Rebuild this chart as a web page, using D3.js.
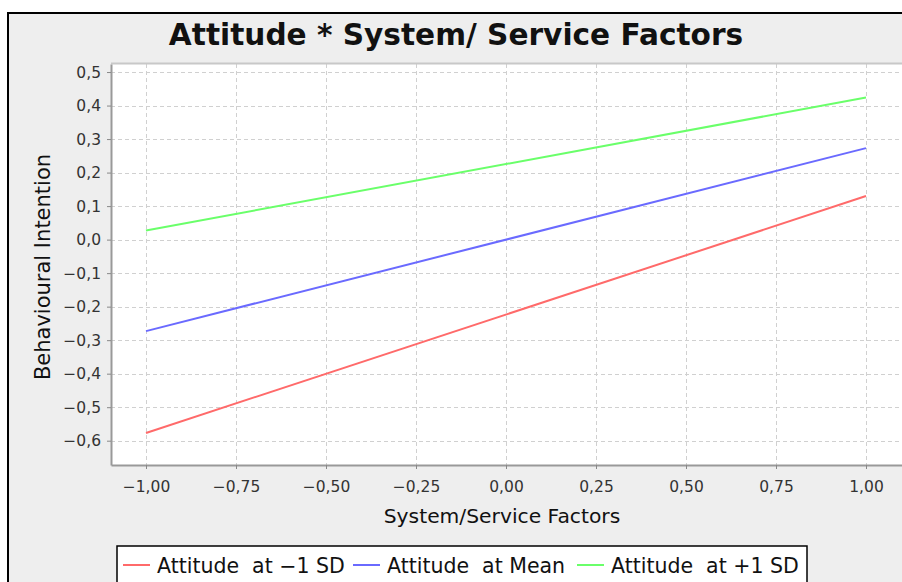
<!DOCTYPE html>
<html><head><meta charset="utf-8">
<script src="https://cdn.jsdelivr.net/npm/d3@7"></script>
<style>body{margin:0;background:#fff}svg{display:block}</style>
</head><body>
<svg id="c" width="902" height="582"></svg>
<script>
const xTicks = [-1.00, -0.75, -0.50, -0.25, 0.00, 0.25, 0.50, 0.75, 1.00];
const yTicks = [0.5, 0.4, 0.3, 0.2, 0.1, 0.0, -0.1, -0.2, -0.3, -0.4, -0.5, -0.6];
const seriesNames = ["Attitude  at \u22121 SD", "Attitude  at Mean", "Attitude  at +1 SD"];
const seriesColors = ["#ff6a6a", "#6a6aff", "#6aff6a"];
const xValues = [-1, 1];
const lowValues = [-0.577, 0.130];
const meanValues = [-0.273, 0.273];
const highValues = [0.027, 0.424];
const allSeries = [lowValues, meanValues, highValues];

const svg = d3.select("#c");
const L = 111, R = 902, T = 64, B = 465;
const x = d3.scaleLinear().domain([-1.0972, 1.1]).range([L, R]);
const y = d3.scaleLinear().domain([-0.6725, 0.524]).range([B, T]);
const font = "'DejaVu Sans', sans-serif";
const fmt2 = d => d3.format(".2f")(d).replace(".", ",").replace("-", "\u2212");
const fmt1 = d => d3.format(".1f")(d).replace(".", ",").replace("-", "\u2212");

// background
svg.append("rect").attr("x", 8).attr("y", 13).attr("width", 894).attr("height", 569).attr("fill", "#eeeeee");
svg.append("path").attr("d", "M8,582 V13 H902").attr("fill", "none").attr("stroke", "#000").attr("stroke-width", 2);

// plot area
svg.append("rect").attr("x", L).attr("y", T).attr("width", R - L).attr("height", B - T).attr("fill", "#fff");

// grid
const grid = svg.append("g").attr("stroke", "#d0d0d0").attr("stroke-dasharray", "4,3").attr("stroke-width", 1);
yTicks.forEach(v => grid.append("line").attr("x1", L).attr("x2", R).attr("y1", Math.round(y(v)) + 0.5).attr("y2", Math.round(y(v)) + 0.5));
xTicks.forEach(v => grid.append("line").attr("y1", T).attr("y2", B).attr("x1", Math.round(x(v)) + 0.5).attr("x2", Math.round(x(v)) + 0.5));

// frame
svg.append("line").attr("x1", L).attr("x2", R).attr("y1", T - 0.5).attr("y2", T - 0.5).attr("stroke", "#c8c8c8").attr("stroke-width", 2);

// axes
const xAxis = svg.append("g").attr("transform", `translate(0,${B})`)
  .call(d3.axisBottom(x).tickValues(xTicks).tickFormat(fmt2).tickSizeOuter(0).tickSizeInner(4).tickPadding(12));
const yAxis = svg.append("g").attr("transform", `translate(${L},0)`)
  .call(d3.axisLeft(y).tickValues(yTicks).tickFormat(fmt1).tickSizeOuter(0).tickSizeInner(4).tickPadding(6));
[xAxis, yAxis].forEach(a => {
  a.select(".domain").attr("stroke", "#999").attr("stroke-width", 2);
  a.selectAll(".tick line").attr("stroke", "#888");
  a.selectAll("text").attr("font-family", font).attr("font-size", 15.5).attr("fill", "#333");
});

// lines
const line = d3.line().x((d, i) => x(xValues[i])).y(d => y(d));
allSeries.forEach((s, i) => {
  svg.append("path").datum(s).attr("d", line).attr("fill", "none")
    .attr("stroke", seriesColors[i]).attr("stroke-width", 2);
});

// title
svg.append("text").attr("x", 456).attr("y", 45).attr("text-anchor", "middle")
  .attr("font-family", font).attr("font-weight", "bold").attr("font-size", 29.6).attr("fill", "#111")
  .text("Attitude * System/ Service Factors");

// axis labels
svg.append("text").attr("x", 502).attr("y", 523).attr("text-anchor", "middle")
  .attr("font-family", font).attr("font-size", 20.3).attr("fill", "#111").text("System/Service Factors");
svg.append("text").attr("transform", "translate(50,267) rotate(-90)").attr("text-anchor", "middle")
  .attr("font-family", font).attr("font-size", 21).attr("fill", "#111").text("Behavioural Intention");

// legend
svg.append("rect").attr("x", 117).attr("y", 546).attr("width", 690).attr("height", 60)
  .attr("fill", "#fff").attr("stroke", "#000").attr("stroke-width", 1.5);
const legendX = [123, 353, 577];
seriesNames.forEach((n, i) => {
  svg.append("line").attr("x1", legendX[i]).attr("x2", legendX[i] + 27).attr("y1", 565).attr("y2", 565)
    .attr("stroke", seriesColors[i]).attr("stroke-width", 2);
  svg.append("text").attr("x", legendX[i] + 34).attr("y", 573).attr("font-family", font)
    .attr("font-size", 20.5).attr("fill", "#111").attr("xml:space", "preserve").style("white-space", "pre").text(n);
});
</script>
</body></html>
